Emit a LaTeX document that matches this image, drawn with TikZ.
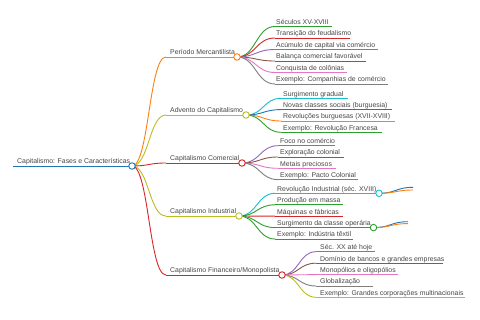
\documentclass[tikz,border=0pt]{standalone}
\usepackage{fontspec}
\setmainfont{Liberation Sans}
\usepackage{tikz}
\usetikzlibrary{calc}

% markmap-like palette
\definecolor{mmblue}{HTML}{1F77B4}
\definecolor{mmorange}{HTML}{FF7F0E}
\definecolor{mmgreen}{HTML}{2CA02C}
\definecolor{mmred}{HTML}{D62728}
\definecolor{mmpurple}{HTML}{9467BD}
\definecolor{mmbrown}{HTML}{8C564B}
\definecolor{mmpink}{HTML}{E377C2}
\definecolor{mmgray}{HTML}{7F7F7F}
\definecolor{mmolive}{HTML}{BCBD22}
\definecolor{mmcyan}{HTML}{17BECF}

\tikzset{
    topictext/.style={anchor=base west, inner sep=0pt, text=black!72,
        font=\fontsize{6.9}{8}\selectfont},
    stem/.style={line width=0.9pt},
    branchlink/.style={line width=0.9pt, to path={
        .. controls ($(\tikztostart)!.5!(\tikztostart -| \tikztotarget)$)
        and ($(\tikztotarget)!.5!(\tikztotarget -| \tikztostart)$) .. (\tikztotarget)}},
    dot/.style={circle, draw=#1, fill=white, line width=0.9pt,
        inner sep=0pt, minimum size=6.5pt}
}

% name, colour, line start, text start, line end, y, text
\newcommand{\topic}[7]{%
    \coordinate (#1-s) at (#3,#6);
    \coordinate (#1-e) at (#5,#6);
    \node[topictext] (#1) at (#4,{#6-2}) {#7};
    \draw[#2, stem] (#1-s) -- (#1-e);
}

\begin{document}
\begin{tikzpicture}[x=1pt, y=-1pt]
    \useasboundingbox[fill=white] (0,0) rectangle (480,320);

    % root
    \topic{root}{mmblue}{13}{17}{132}{166}{Capitalismo: Fases e Características}

    % main phases
    \topic{merc}{mmorange}{166}{170}{237}{57}{Período Mercantilista}
    \topic{adv}{mmolive}{166}{170}{246}{115}{Advento do Capitalismo}
    \topic{com}{mmred}{166}{170}{242}{163}{Capitalismo Comercial}
    \topic{ind}{mmolive}{166}{170}{239}{216}{Capitalismo Industrial}
    \topic{fin}{mmred}{166}{170}{282}{275}{Capitalismo Financeiro/Monopolista}

    % Período Mercantilista
    \topic{secs}{mmgreen}{275}{276}{332}{26.5}{Séculos XV-XVIII}
    \topic{trans}{mmred}{275}{276}{350}{38}{Transição do feudalismo}
    \topic{acum}{mmpurple}{275}{276}{378}{49.5}{Acúmulo de capital via comércio}
    \topic{bal}{mmbrown}{275}{276}{366}{61}{Balança comercial favorável}
    \topic{conq}{mmpink}{275}{276}{347}{72.5}{Conquista de colônias}
    \topic{exm}{mmgray}{275}{276}{388}{84}{Exemplo: Companhias de comércio}

    % Advento do Capitalismo
    \topic{surg}{mmcyan}{281}{283}{348}{98.3}{Surgimento gradual}
    \topic{novas}{mmblue}{281}{283}{392}{109.6}{Novas classes sociais (burguesia)}
    \topic{revb}{mmorange}{281}{283}{395}{121}{Revoluções burguesas (XVII-XVIII)}
    \topic{exa}{mmgreen}{281}{283}{382}{132.3}{Exemplo: Revolução Francesa}

    % Capitalismo Comercial
    \topic{foco}{mmpurple}{278}{280}{335}{145.7}{Foco no comércio}
    \topic{expl}{mmbrown}{278}{280}{344}{157}{Exploração colonial}
    \topic{met}{mmpink}{278}{280}{336}{168.3}{Metais preciosos}
    \topic{exc}{mmgray}{278}{280}{358}{179.6}{Exemplo: Pacto Colonial}

    % Capitalismo Industrial
    \topic{revi}{mmcyan}{275}{277}{379}{193.3}{Revolução Industrial (séc. XVIII)}
    \topic{prod}{mmgreen}{275}{277}{343}{204.8}{Produção em massa}
    \topic{maq}{mmred}{275}{277}{343}{216.2}{Máquinas e fábricas}
    \topic{oper}{mmgreen}{275}{277}{373.5}{227.6}{Surgimento da classe operária}
    \topic{exi}{mmgreen}{275}{277}{353}{239}{Exemplo: Indústria têxtil}

    % Capitalismo Financeiro/Monopolista
    \topic{secxx}{mmpurple}{316}{320}{375}{251.7}{Séc. XX até hoje}
    \topic{dom}{mmbrown}{316}{320}{443}{263.2}{Domínio de bancos e grandes empresas}
    \topic{mono}{mmpink}{316}{320}{398}{274.6}{Monopólios e oligopólios}
    \topic{glob}{mmgray}{316}{320}{373}{286}{Globalização}
    \topic{exf}{mmolive}{316}{320}{465}{297.3}{Exemplo: Grandes corporações multinacionais}

    % loose ends of the collapsed branches
    \coordinate (revi-a) at (413,187.3);
    \coordinate (revi-b) at (413,190);
    \coordinate (oper-a) at (408,221.7);
    \coordinate (oper-b) at (408,223.6);

    % links
    \foreach \kid/\col in {merc/mmorange, adv/mmolive, com/mmred, ind/mmolive, fin/mmred}
        \draw[branchlink, \col] (root-e) to (\kid-s);
    \foreach \kid/\col in {secs/mmgreen, trans/mmred, acum/mmpurple, bal/mmbrown, conq/mmpink, exm/mmgray}
        \draw[branchlink, \col] (merc-e) to (\kid-s);
    \foreach \kid/\col in {surg/mmcyan, novas/mmblue, revb/mmorange, exa/mmgreen}
        \draw[branchlink, \col] (adv-e) to (\kid-s);
    \foreach \kid/\col in {foco/mmpurple, expl/mmbrown, met/mmpink, exc/mmgray}
        \draw[branchlink, \col] (com-e) to (\kid-s);
    \foreach \kid/\col in {revi/mmcyan, prod/mmgreen, maq/mmred, oper/mmgreen, exi/mmgreen}
        \draw[branchlink, \col] (ind-e) to (\kid-s);
    \foreach \kid/\col in {secxx/mmpurple, dom/mmbrown, mono/mmpink, glob/mmgray, exf/mmolive}
        \draw[branchlink, \col] (fin-e) to (\kid-s);
    \draw[branchlink, mmblue] (revi-e) to (revi-a);
    \draw[branchlink, mmorange] (revi-e) to (revi-b);
    \draw[branchlink, mmblue] (oper-e) to (oper-a);
    \draw[branchlink, mmorange] (oper-e) to (oper-b);

    % fold circles
    \foreach \hub/\col in {root/mmblue, merc/mmorange, adv/mmolive, com/mmred,
            ind/mmolive, fin/mmred, revi/mmcyan, oper/mmgreen}
        \node[dot=\col] (\hub-c) at (\hub-e) {};
\end{tikzpicture}
\end{document}
